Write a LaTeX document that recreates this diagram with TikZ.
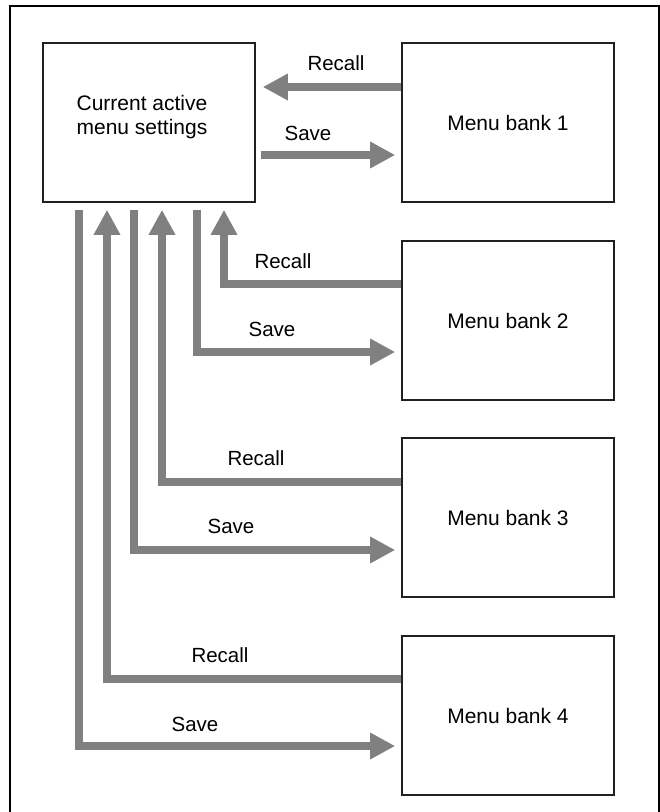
\documentclass[tikz,border=0pt]{standalone}
\usepackage{fontspec}
\setmainfont{Liberation Sans}
\usetikzlibrary{arrows.meta}
\definecolor{arrgrey}{RGB}{128,128,129}
\definecolor{boxline}{RGB}{35,31,32}
\tikzset{
  box/.style={draw=boxline, line width=1.6pt, minimum width=212pt, minimum height=159pt, inner sep=0pt, font=\fontsize{21}{23.5}\selectfont},
  garrow/.style={draw=arrgrey, line width=8.5pt, line join=miter, line cap=butt, -{Triangle[length=25pt,width=25pt]}},
  lbl/.style={inner sep=0pt, font=\fontsize{20.5}{23}\selectfont},
  frame/.style={draw=black, line width=2pt}
}
\begin{document}
\begin{tikzpicture}[x=1pt,y=-1pt]
\useasboundingbox (0,0) rectangle (660,812);
\draw[frame] (10,815) -- (10,6) -- (659,6) -- (659,815);

\node[box] (m) at (149,122.5) {};
\node[inner sep=0pt, align=center, font=\fontsize{21}{23.5}\selectfont] (mt) at (142,117) {Current active\\menu settings};
\node[box] (b1) at (508,122.5) {Menu bank 1};
\node[box] (b2) at (508,320.5) {Menu bank 2};
\node[box] (b3) at (508,517.5) {Menu bank 3};
\node[box] (b4) at (508,715.5) {Menu bank 4};

% bank 1
\draw[garrow, shorten >=7pt] (b1.west |- 0,87) -- (m.east |- 0,87);
\draw[garrow, shorten <=5pt, shorten >=6pt] (m.east |- 0,155) -- (b1.west |- 0,155);
% bank 2
\draw[garrow, shorten >=7pt] (b2.west |- 0,284) -| (m.south -| 224,0);
\draw[garrow, shorten <=7pt, shorten >=6pt] (m.south -| 197,0) |- (b2.west |- 0,352);
% bank 3
\draw[garrow, shorten >=7pt] (b3.west |- 0,482) -| (m.south -| 162,0);
\draw[garrow, shorten <=7pt, shorten >=6pt] (m.south -| 134,0) |- (b3.west |- 0,550);
% bank 4
\draw[garrow, shorten >=7pt] (b4.west |- 0,679) -| (m.south -| 107,0);
\draw[garrow, shorten <=7pt, shorten >=6pt] (m.south -| 79,0) |- (b4.west |- 0,746);

\node[lbl] (r1) at (336,63) {Recall};
\node[lbl] (s1) at (308,133) {Save};
\node[lbl] (r2) at (283,261) {Recall};
\node[lbl] (s2) at (272,329) {Save};
\node[lbl] (r3) at (256,458) {Recall};
\node[lbl] (s3) at (231,526) {Save};
\node[lbl] (r4) at (220,655) {Recall};
\node[lbl] (s4) at (195,724) {Save};
\end{tikzpicture}
\end{document}
